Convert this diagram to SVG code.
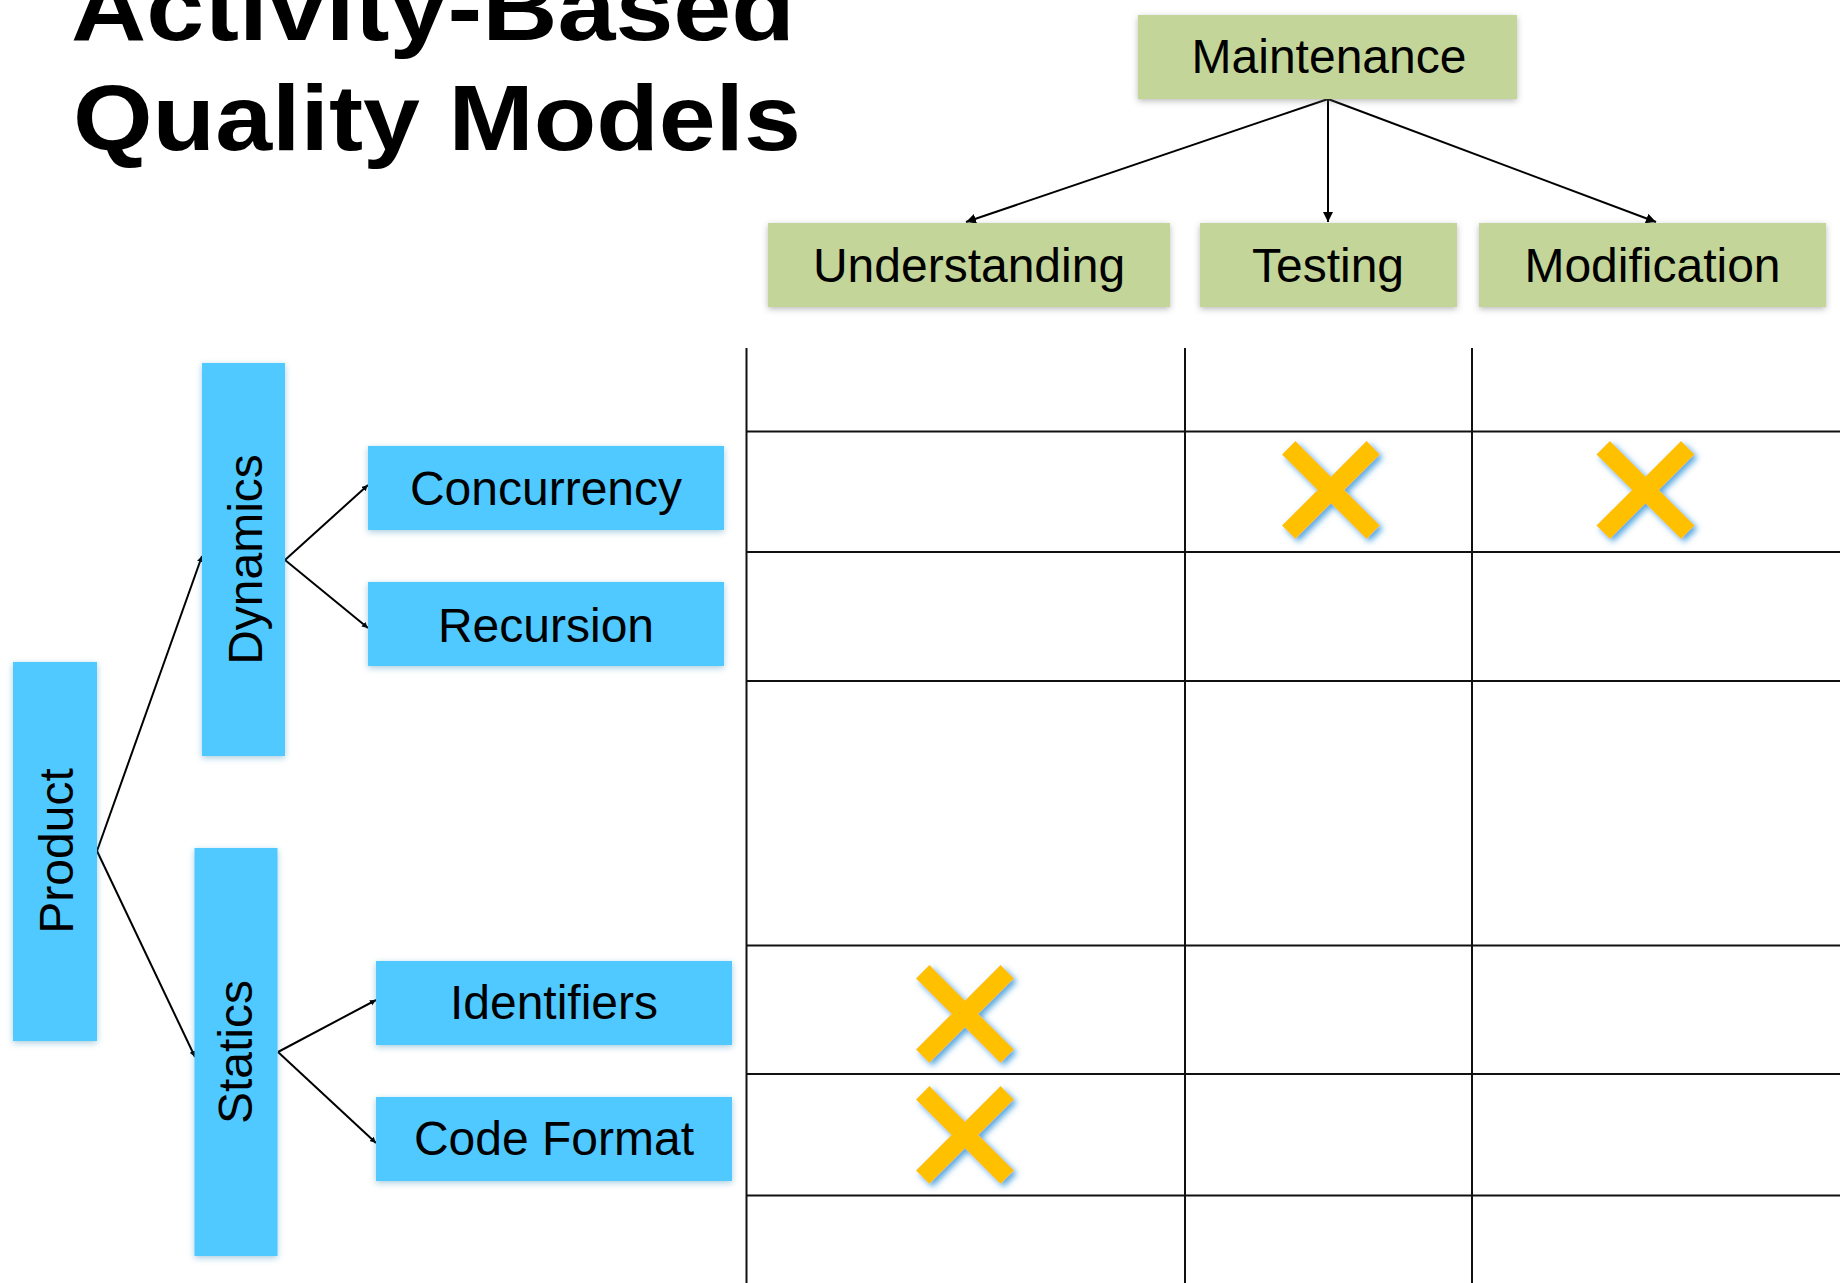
<svg xmlns="http://www.w3.org/2000/svg" width="1840" height="1283" viewBox="0 0 1840 1283">
<style>
.title{font-family:"Liberation Sans",Arial,sans-serif;font-weight:bold;font-size:92px;fill:#000}
.lbl{font-family:"Liberation Sans",Arial,sans-serif;font-size:48px;fill:#000;text-anchor:middle}
.green{fill:#C3D598;filter:url(#gshadow)}
.blue{fill:#4FC9FF;filter:url(#bshadow)}
.conn{stroke:#000;stroke-width:2;fill:none}
.grid{stroke:#111;stroke-width:2;fill:none}
.x{stroke:#FFC000;stroke-width:19;stroke-linecap:butt;fill:none}
</style>
<defs>
<filter id="gshadow" x="-20%" y="-30%" width="140%" height="160%">
<feDropShadow dx="0" dy="2" stdDeviation="3" flood-color="#666" flood-opacity="0.45"/>
</filter>
<filter id="bshadow" x="-20%" y="-30%" width="140%" height="160%">
<feDropShadow dx="0" dy="2" stdDeviation="3" flood-color="#2a7fb0" flood-opacity="0.4"/>
</filter>
<filter id="xglow" x="-30%" y="-30%" width="160%" height="160%">
<feDropShadow dx="3" dy="3" stdDeviation="3" flood-color="#3D9BDB" flood-opacity="0.9"/>
</filter>
<marker id="arr" markerUnits="userSpaceOnUse" markerWidth="11" markerHeight="11" refX="10" refY="5" orient="auto">
<path d="M0,0 L10,5 L0,10 z" fill="#000"/>
</marker>
<marker id="arrs" markerUnits="userSpaceOnUse" markerWidth="7" markerHeight="7" refX="6" refY="3" orient="auto">
<path d="M0,0 L6,3 L0,6 z" fill="#000"/>
</marker>
</defs>
<rect width="1840" height="1283" fill="#fff"/>

<g id="title">
<text class="title" x="71" y="40" textLength="724" lengthAdjust="spacingAndGlyphs">Activity-Based</text>
<text class="title" x="73" y="150" textLength="728" lengthAdjust="spacingAndGlyphs">Quality Models</text>
</g>

<g id="grid">
<line class="grid" x1="746.5" y1="348" x2="746.5" y2="1283"/>
<line class="grid" x1="1185" y1="348" x2="1185" y2="1283"/>
<line class="grid" x1="1472" y1="348" x2="1472" y2="1283"/>
<line class="grid" x1="746" y1="431.5" x2="1840" y2="431.5"/>
<line class="grid" x1="746" y1="552" x2="1840" y2="552"/>
<line class="grid" x1="746" y1="681" x2="1840" y2="681"/>
<line class="grid" x1="746" y1="945.5" x2="1840" y2="945.5"/>
<line class="grid" x1="746" y1="1074" x2="1840" y2="1074"/>
<line class="grid" x1="746" y1="1195.5" x2="1840" y2="1195.5"/>
</g>

<g id="connectors">
<line class="conn" x1="1328" y1="99" x2="966" y2="222" marker-end="url(#arr)"/>
<line class="conn" x1="1328" y1="99" x2="1328" y2="222" marker-end="url(#arr)"/>
<line class="conn" x1="1328" y1="99" x2="1656" y2="222" marker-end="url(#arr)"/>
<line class="conn" x1="97" y1="851" x2="202" y2="556" marker-end="url(#arrs)"/>
<line class="conn" x1="97" y1="851" x2="195" y2="1057" marker-end="url(#arrs)"/>
<line class="conn" x1="285" y1="560" x2="368" y2="485" marker-end="url(#arrs)"/>
<line class="conn" x1="285" y1="560" x2="368" y2="628" marker-end="url(#arrs)"/>
<line class="conn" x1="278" y1="1052" x2="376" y2="1000" marker-end="url(#arrs)"/>
<line class="conn" x1="278" y1="1052" x2="376" y2="1143" marker-end="url(#arrs)"/>
</g>

<g id="maintenance">
<rect class="green" x="1138" y="15" width="379" height="84"/>
<text class="lbl" x="1329" y="73">Maintenance</text>
</g>
<g id="understanding">
<rect class="green" x="768" y="223" width="402" height="84"/>
<text class="lbl" x="969" y="282">Understanding</text>
</g>
<g id="testing">
<rect class="green" x="1200" y="223" width="257" height="84"/>
<text class="lbl" x="1328" y="282">Testing</text>
</g>
<g id="modification">
<rect class="green" x="1479" y="223" width="347" height="84"/>
<text class="lbl" x="1652.5" y="282">Modification</text>
</g>

<g id="product">
<rect class="blue" x="13" y="662" width="84" height="379"/>
<text class="lbl" transform="translate(73,851) rotate(-90)">Product</text>
</g>
<g id="dynamics">
<rect class="blue" x="202" y="363" width="83" height="393"/>
<text class="lbl" transform="translate(262,559.5) rotate(-90)">Dynamics</text>
</g>
<g id="statics">
<rect class="blue" x="194.5" y="848" width="83" height="408"/>
<text class="lbl" transform="translate(252,1052) rotate(-90)">Statics</text>
</g>
<g id="concurrency">
<rect class="blue" x="368" y="446" width="356" height="84"/>
<text class="lbl" x="546" y="505">Concurrency</text>
</g>
<g id="recursion">
<rect class="blue" x="368" y="582" width="356" height="84"/>
<text class="lbl" x="546" y="641.5">Recursion</text>
</g>
<g id="identifiers">
<rect class="blue" x="376" y="961" width="356" height="84"/>
<text class="lbl" x="554" y="1019">Identifiers</text>
</g>
<g id="codeformat">
<rect class="blue" x="376" y="1097" width="356" height="84"/>
<text class="lbl" x="554" y="1155">Code Format</text>
</g>

<g id="marks" filter="url(#xglow)">
<g id="x-testing-concurrency">
<line class="x" x1="1288.7" y1="447.7" x2="1373.3" y2="532.3"/>
<line class="x" x1="1373.3" y1="447.7" x2="1288.7" y2="532.3"/>
</g>
<g id="x-modification-concurrency">
<line class="x" x1="1603.2" y1="447.7" x2="1687.8" y2="532.3"/>
<line class="x" x1="1687.8" y1="447.7" x2="1603.2" y2="532.3"/>
</g>
<g id="x-understanding-identifiers">
<line class="x" x1="922.7" y1="971.7" x2="1007.3" y2="1056.3"/>
<line class="x" x1="1007.3" y1="971.7" x2="922.7" y2="1056.3"/>
</g>
<g id="x-understanding-codeformat">
<line class="x" x1="922.7" y1="1092.7" x2="1007.3" y2="1177.3"/>
<line class="x" x1="1007.3" y1="1092.7" x2="922.7" y2="1177.3"/>
</g>
</g>
</svg>
